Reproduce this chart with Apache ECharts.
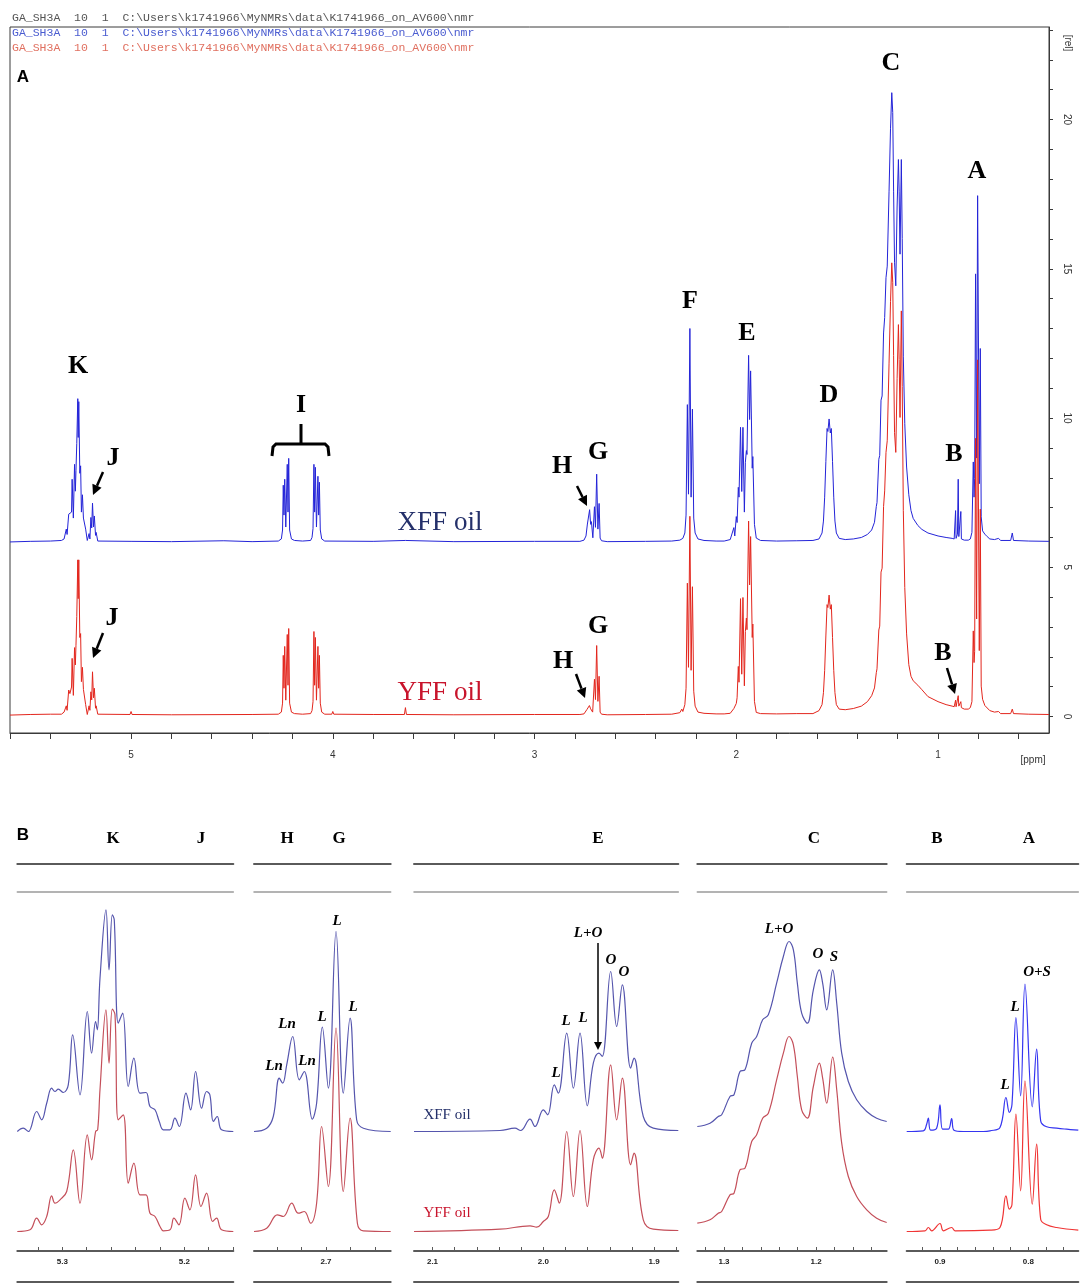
<!DOCTYPE html>
<html><head><meta charset="utf-8">
<script src="https://cdn.jsdelivr.net/npm/echarts@6/dist/echarts.min.js"></script>
<style>html,body{margin:0;padding:0;background:#fff}#c{width:1084px;height:1287px}</style>
</head><body><div id="c"></div>
<script>
// ---------------- DATA (ppm, relative intensity) ----------------
// Panel A: full 1H spectra, intensity in [rel] units above each trace's own baseline
const xffSpectrum = [
[5.60,0.00],[5.50,0.02],[5.40,0.03],[5.345,0.05],[5.332,0.10],[5.321,0.43],[5.317,0.25],[5.309,0.93],[5.303,0.90],[5.295,1.00],[5.292,2.10],[5.286,0.80],[5.280,2.60],[5.276,1.70],[5.273,2.40],[5.269,3.30],[5.264,4.80],[5.262,3.50],[5.259,4.70],[5.254,2.30],[5.250,2.55],[5.246,1.00],[5.241,1.58],[5.236,0.80],[5.232,0.80],[5.225,0.43],[5.217,0.05],[5.208,0.28],[5.204,0.10],[5.199,0.82],[5.195,0.47],[5.191,1.30],[5.186,0.50],[5.182,0.87],[5.176,0.22],[5.173,0.32],[5.165,0.03],
[5.00,0.02],[4.80,0.01],[4.54,0.04],[4.40,0.01],
[4.27,0.03],[4.255,0.10],[4.249,0.40],[4.2455,1.90],[4.242,0.90],[4.2383,2.10],[4.233,0.50],[4.2257,2.60],[4.222,1.00],[4.2185,2.80],[4.214,0.40],[4.205,0.10],[4.19,0.05],[4.15,0.03],[4.11,0.05],[4.103,0.15],[4.098,0.45],[4.0935,2.60],[4.090,1.00],[4.0863,2.50],[4.081,0.50],[4.0737,2.20],[4.070,0.90],[4.0665,2.00],[4.062,0.40],[4.055,0.10],[4.04,0.03],
[3.80,0.02],[3.64,0.05],[3.40,0.01],[3.00,0.02],
[2.775,0.02],[2.755,0.06],[2.745,0.20],[2.738,0.60],[2.733,0.55],[2.727,1.08],[2.722,0.59],[2.718,0.68],[2.711,0.14],[2.703,1.18],[2.698,0.49],[2.692,2.27],[2.686,0.43],[2.680,1.29],[2.675,0.13],[2.668,0.04],[2.64,0.01],
[2.45,0.02],[2.32,0.03],[2.28,0.06],[2.265,0.12],[2.255,0.30],[2.249,0.90],[2.2425,4.60],[2.237,1.60],[2.230,7.15],[2.224,1.50],[2.2175,4.45],[2.211,0.80],[2.204,0.30],[2.19,0.10],[2.16,0.05],[2.10,0.03],
[2.06,0.03],[2.03,0.08],[2.0256,0.13],[2.012,0.48],[2.0075,0.20],[2.000,0.85],[1.996,0.65],[1.990,1.83],[1.9865,1.50],[1.979,3.84],[1.973,1.69],[1.967,3.84],[1.960,1.00],[1.955,2.67],[1.950,3.06],[1.947,2.93],[1.939,6.25],[1.934,4.10],[1.929,5.73],[1.921,2.47],[1.918,2.86],[1.910,0.59],[1.901,0.13],[1.88,0.05],
[1.80,0.03],[1.70,0.04],[1.62,0.05],[1.59,0.10],[1.575,0.30],[1.568,0.70],[1.562,1.50],[1.556,2.70],[1.550,3.80],[1.546,3.70],[1.540,4.12],[1.534,3.65],[1.529,3.80],[1.523,2.70],[1.517,1.50],[1.511,0.70],[1.504,0.30],[1.49,0.12],[1.46,0.08],
[1.42,0.10],[1.38,0.15],[1.35,0.25],[1.329,0.40],[1.315,0.66],[1.306,1.19],[1.3025,1.32],[1.2935,2.77],[1.289,2.90],[1.2826,4.75],[1.2772,4.89],[1.270,7.00],[1.2645,7.52],[1.258,8.85],[1.2518,9.24],[1.2428,11.75],[1.2355,13.86],[1.2293,15.05],[1.2246,14.39],[1.2203,11.75],[1.2156,9.37],[1.2094,8.58],[1.2029,11.22],[1.1964,12.81],[1.1928,11.75],[1.1884,9.64],[1.1819,12.81],[1.1775,10.16],[1.1721,6.20],[1.1649,3.96],[1.1558,2.51],[1.1449,1.58],[1.1341,1.05],[1.1232,0.79],[1.10,0.55],[1.08,0.42],[1.05,0.30],[1.00,0.20],[0.96,0.15],[0.93,0.12],
[0.92,0.10],[0.916,0.15],[0.913,1.05],[0.9106,0.12],[0.9038,0.26],[0.900,2.10],[0.897,0.18],[0.8906,0.18],[0.887,1.02],[0.8842,0.10],[0.87,0.06],[0.85,0.06],[0.84,0.10],[0.832,0.32],
[0.8253,2.68],[0.8215,1.50],[0.8185,2.13],[0.814,8.98],[0.8087,2.81],[0.8038,11.60],[0.7955,1.95],[0.7906,6.48],[0.786,0.84],[0.7792,0.37],[0.7679,0.26],[0.7566,0.18],[0.7434,0.10],[0.72,0.08],[0.70,0.12],[0.69,0.05],[0.64,0.05],[0.632,0.30],[0.626,0.05],[0.55,0.03],[0.45,0.02]
];
const yffSpectrum = [
[5.60,0.00],[5.50,0.02],[5.40,0.03],[5.345,0.03],[5.332,0.10],[5.321,0.31],[5.317,0.16],[5.309,0.84],[5.303,0.72],[5.295,0.94],[5.292,1.90],[5.286,0.66],[5.280,2.26],[5.276,1.68],[5.273,2.34],[5.269,3.30],[5.264,5.20],[5.262,3.90],[5.259,5.20],[5.254,2.60],[5.250,2.73],[5.246,1.12],[5.241,1.60],[5.236,0.86],[5.232,0.86],[5.225,0.35],[5.217,0.02],[5.208,0.31],[5.204,0.16],[5.199,0.78],[5.195,0.51],[5.191,1.45],[5.186,0.58],[5.182,0.90],[5.176,0.23],[5.173,0.31],[5.165,0.03],
[5.005,0.02],[5.000,0.12],[4.995,0.02],[4.80,0.01],[4.40,0.02],
[4.27,0.03],[4.255,0.10],[4.249,0.40],[4.2455,2.00],[4.242,0.90],[4.2383,2.30],[4.233,0.50],[4.2257,2.70],[4.222,1.00],[4.2185,2.90],[4.214,0.40],[4.205,0.10],[4.19,0.05],[4.15,0.03],[4.11,0.05],[4.103,0.15],[4.098,0.45],[4.0935,2.80],[4.090,1.00],[4.0863,2.60],[4.081,0.50],[4.0737,2.30],[4.070,0.90],[4.0665,2.00],[4.062,0.40],[4.055,0.10],[4.04,0.03],[4.005,0.03],[4.000,0.12],[3.995,0.03],
[3.80,0.02],[3.645,0.02],[3.640,0.25],[3.635,0.02],[3.40,0.01],[3.00,0.02],
[2.775,0.02],[2.755,0.04],[2.740,0.19],[2.734,0.17],[2.728,0.32],[2.722,0.21],[2.718,0.23],[2.712,0.10],[2.703,1.20],[2.698,0.52],[2.692,2.33],[2.686,0.46],[2.680,1.30],[2.675,0.10],[2.668,0.03],[2.64,0.01],
[2.45,0.02],[2.32,0.03],[2.28,0.08],[2.27,0.20],[2.265,0.12],[2.255,0.35],[2.249,0.90],[2.2425,4.42],[2.237,1.60],[2.230,6.66],[2.224,1.50],[2.2175,4.30],[2.211,0.80],[2.204,0.30],[2.19,0.10],[2.16,0.06],[2.10,0.04],
[2.06,0.04],[2.03,0.06],[2.012,0.22],[2.000,0.39],[1.996,0.58],[1.990,1.63],[1.9865,1.10],[1.979,3.90],[1.973,1.37],[1.967,3.94],[1.960,0.98],[1.955,2.80],[1.950,3.25],[1.947,2.86],[1.939,6.50],[1.934,4.36],[1.929,5.98],[1.921,2.60],[1.918,3.05],[1.910,0.46],[1.901,0.09],[1.88,0.05],
[1.80,0.04],[1.70,0.05],[1.62,0.05],[1.59,0.15],[1.575,0.35],[1.568,0.75],[1.562,1.50],[1.556,2.65],[1.550,3.70],[1.546,3.60],[1.540,4.02],[1.534,3.55],[1.529,3.70],[1.523,2.60],[1.517,1.50],[1.511,0.75],[1.504,0.35],[1.49,0.20],[1.46,0.18],
[1.42,0.22],[1.38,0.30],[1.35,0.45],[1.329,0.65],[1.315,0.91],[1.306,1.42],[1.3025,1.55],[1.2935,2.85],[1.289,2.98],[1.2826,4.79],[1.2772,4.92],[1.270,6.99],[1.2645,7.51],[1.258,8.80],[1.2518,9.19],[1.2428,11.79],[1.2355,13.85],[1.2293,15.15],[1.2246,14.50],[1.2203,12.04],[1.2156,9.46],[1.2094,8.80],[1.2029,11.27],[1.1964,13.08],[1.1928,11.91],[1.1884,9.97],[1.1819,13.54],[1.1775,11.01],[1.1721,6.86],[1.1649,4.27],[1.1558,2.72],[1.1449,1.69],[1.1341,1.30],[1.1232,1.15],[1.10,1.00],[1.08,0.85],[1.05,0.62],[1.00,0.45],[0.96,0.35],[0.93,0.30],
[0.92,0.28],[0.916,0.30],[0.913,0.50],[0.9106,0.28],[0.9038,0.30],[0.900,0.65],[0.897,0.30],[0.8906,0.28],[0.887,0.45],[0.8842,0.25],[0.87,0.20],[0.85,0.20],[0.84,0.25],[0.832,0.45],
[0.8253,2.82],[0.8215,1.76],[0.8185,2.13],[0.814,9.27],[0.8087,3.22],[0.8038,11.90],[0.7955,2.16],[0.7906,6.90],[0.786,0.97],[0.7792,0.53],[0.7679,0.32],[0.7434,0.15],[0.72,0.10],[0.70,0.12],[0.69,0.05],[0.64,0.05],[0.632,0.20],[0.626,0.05],[0.55,0.03],[0.45,0.02]
];
const xffBaselineA = 5.85;   // [rel]
const yffBaselineA = 0.05;
const ppmTicksA = [5.6,5.4,5.2,5.0,4.8,4.6,4.4,4.2,4.0,3.8,3.6,3.4,3.2,3.0,2.8,2.6,2.4,2.2,2.0,1.8,1.6,1.4,1.2,1.0,0.8,0.6];
const ppmLabelsA = [5,4,3,2,1];
const relTicksA = [0,1,2,3,4,5,6,7,8,9,10,11,12,13,14,15,16,17,18,19,20,21,22,23];
const relLabelsA = [0,5,10,15,20];

// Panel B: expanded regions (ppm, intensity in arbitrary units above each trace's baseline)
const kjXff = [[5.3369,0],[5.332,3.3],[5.3279,0],[5.321,20],[5.3169,11.7],[5.3128,28.3],[5.3087,43.3],[5.306,40],[5.3033,42.3],[5.2992,39],[5.2951,46.7],[5.2915,96.7],[5.2855,36.7],[5.2795,120],[5.276,78.3],[5.2727,110],[5.2713,101.7],[5.2691,153.3],[5.2642,221.7],[5.2617,161.7],[5.259,216.7],[5.2574,211.7],[5.2541,108.3],[5.2505,118.3],[5.2459,45],[5.2413,73.3],[5.2363,38.3],[5.2314,39],[5.2281,25],[5.224,21.7],[5.2205,10],[5.2172,1.7],[5.2117,1.7],[5.2077,13.3],[5.2041,5],[5.1986,38.3],[5.1948,21.7],[5.1907,60],[5.1858,23.3],[5.1817,40],[5.179,36.7],[5.1762,10],[5.173,15],[5.1694,1.7],[5.1598,0]];
const kjYff = [[5.3369,0],[5.3265,1.7],[5.321,13.3],[5.3169,6.7],[5.3128,15],[5.3087,35.7],[5.306,28.3],[5.3019,31.7],[5.2964,40],[5.291,81.7],[5.2855,28.3],[5.2795,96.7],[5.276,71.7],[5.2727,100],[5.271,101.7],[5.2691,141.7],[5.2642,221.7],[5.2617,168.3],[5.259,222.3],[5.2568,216.7],[5.2541,111.7],[5.25,116.7],[5.2459,48.3],[5.2413,68.3],[5.2363,36.7],[5.2314,36.7],[5.2281,18.3],[5.224,15],[5.2199,5],[5.2172,0.7],[5.2117,1.7],[5.2085,13.3],[5.2044,6.7],[5.1995,33.3],[5.1954,21.7],[5.1907,56.7],[5.1863,25],[5.1817,38.3],[5.1768,10],[5.1735,13.3],[5.1694,1.7],[5.1598,0]];
const hgXff = [[2.759,0],[2.7486,3.3],[2.7432,15],[2.7383,53.3],[2.7355,48.3],[2.7322,66.7],[2.7273,95],[2.7219,51.7],[2.7178,60],[2.7112,12.3],[2.7077,28.3],[2.703,104.3],[2.6981,43.3],[2.6918,200],[2.6858,38.3],[2.6803,113.3],[2.6749,11.7],[2.6694,3.3],[2.647,0]];
const hgYff = [[2.759,0],[2.7486,3.3],[2.7399,16.7],[2.735,15],[2.7281,28.3],[2.7227,18.3],[2.7178,20],[2.7126,8.3],[2.7077,28.3],[2.7036,105],[2.6981,45],[2.6918,203.3],[2.6858,40],[2.6803,113.3],[2.6743,8.3],[2.6694,0.7],[2.647,0]];
const eXff = [[2.1167,0],[2.0391,1],[2.0256,3.3],[2.0205,1],[2.012,12.3],[2.0075,5],[2.0,21.7],[1.9961,16.7],[1.9901,46.7],[1.9865,38.3],[1.9789,98.3],[1.9729,43.3],[1.9669,98.3],[1.9603,25.7],[1.9549,68.3],[1.9498,78.3],[1.9468,75],[1.9392,160],[1.9338,105],[1.9287,146.7],[1.9212,63.3],[1.9182,73.3],[1.9098,15],[1.9008,3.3],[1.8782,1]];
const eYff = [[2.1167,0],[2.0391,2.3],[2.012,5.7],[2.006,4.3],[2.0,10],[1.9955,15],[1.9901,41.7],[1.9856,28.3],[1.9789,100],[1.9729,35],[1.9669,101],[1.9603,25],[1.9549,71.7],[1.9498,83.3],[1.9468,73.3],[1.9392,166.7],[1.9338,111.7],[1.9287,153.3],[1.9212,66.7],[1.9182,78.3],[1.9098,11.7],[1.9008,2.3],[1.8782,1]];
const cXff = [[1.329,5],[1.3152,8.3],[1.3062,15],[1.3025,16.7],[1.2935,35],[1.2891,36.7],[1.2826,60],[1.2772,61.7],[1.2699,88.3],[1.2645,95],[1.258,111.7],[1.2518,116.7],[1.2428,148.3],[1.2355,175],[1.2293,190],[1.2246,181.7],[1.2203,148.3],[1.2156,118.3],[1.2094,108.3],[1.2029,141.7],[1.1964,161.7],[1.1928,148.3],[1.1884,121.7],[1.1819,161.7],[1.1775,128.3],[1.1721,78.3],[1.1649,50],[1.1558,31.7],[1.1449,20],[1.1341,13.3],[1.1232,10]];
const cYff = [[1.329,8.3],[1.3152,11.7],[1.3062,18.3],[1.3025,20],[1.2935,36.7],[1.2891,38.3],[1.2826,61.7],[1.2772,63.3],[1.2699,90],[1.2645,96.7],[1.258,113.3],[1.2518,118.3],[1.2428,151.7],[1.2355,178.3],[1.2293,195],[1.2246,186.7],[1.2203,155],[1.2156,121.7],[1.2094,113.3],[1.2029,145],[1.1964,168.3],[1.1928,153.3],[1.1884,128.3],[1.1819,174.3],[1.1775,141.7],[1.1721,88.3],[1.1649,55],[1.1558,35],[1.1449,21.7],[1.1341,13.3],[1.1232,9]];
const baXff = [[0.9377,0],[0.9189,0.7],[0.9151,7.3],[0.9132,13.3],[0.9106,1.3],[0.9038,3.3],[0.9,26.7],[0.897,2.3],[0.8906,2.3],[0.8868,13],[0.8842,1.3],[0.8736,0],[0.8509,0],[0.8434,0.7],[0.8321,4],[0.8253,34],[0.8215,19],[0.8185,27],[0.814,114],[0.8087,35.7],[0.8038,147.3],[0.7955,24.7],[0.7906,82.3],[0.786,10.7],[0.7792,4.7],[0.7679,3.3],[0.7566,2.3],[0.7434,1.3]];
const baYff = [[0.9377,0],[0.917,0.7],[0.9132,4],[0.9094,0.7],[0.9,8],[0.8962,0.7],[0.8868,4],[0.883,0.7],[0.8434,1.3],[0.8321,4],[0.8253,35.7],[0.8215,22.3],[0.8185,27],[0.814,117.3],[0.8087,40.7],[0.8038,150.7],[0.7955,27.3],[0.7906,87.3],[0.786,12.3],[0.7792,6.7],[0.7679,4],[0.7434,1.3]];
const xffBaselineB = 119.5;
const yffBaselineB = 19.5;
const kjTicks = [5.32,5.30,5.28,5.26,5.24,5.22,5.20,5.18,5.16], kjLabels = [5.3,5.2];
const hgTicks = [2.74,2.72,2.70,2.68,2.66], hgLabels = [2.7];
const eTicks = [2.10,2.08,2.06,2.04,2.02,2.00,1.98,1.96,1.94,1.92,1.90,1.88], eLabels = [2.1,2.0,1.9];
const cTicks = [1.32,1.30,1.28,1.26,1.24,1.22,1.20,1.18,1.16,1.14], cLabels = [1.3,1.2];
const baTicks = [0.92,0.90,0.88,0.86,0.84,0.82,0.80,0.78,0.76], baLabels = [0.9,0.8];

// ---------------- CHART ----------------
const SERIF = '"Liberation Serif", "Times New Roman", serif';
const SANS = '"Liberation Sans", Arial, sans-serif';
const MONO = '"Liberation Mono", "DejaVu Sans Mono", monospace';
const chart = echarts.init(document.getElementById('c'), null, {renderer: 'canvas', width: 1084, height: 1287});

const grids = [{left: 10, top: 27, width: 1039, height: 706, show: true, borderColor: '#3a3a3a', borderWidth: 1}];
const xAxes = [{
  gridIndex: 0, type: 'value', inverse: true, min: 0.45, max: 5.6, position: 'bottom',
  axisLine: {show: true, onZero: false, lineStyle: {color: '#3a3a3a', width: 1}},
  axisTick: {show: true, customValues: ppmTicksA, length: 6, lineStyle: {color: '#3a3a3a'}},
  axisLabel: {customValues: ppmLabelsA, margin: 17, fontSize: 10, color: '#333', fontFamily: SANS},
  splitLine: {show: false}
}];
const yAxes = [{
  gridIndex: 0, type: 'value', position: 'right', min: -0.55, max: 23.1,
  axisLine: {show: true, onZero: false, lineStyle: {color: '#3a3a3a', width: 1}},
  axisTick: {show: true, customValues: relTicksA, length: 4, lineStyle: {color: '#3a3a3a'}},
  axisLabel: {customValues: relLabelsA, rotate: -90, margin: 13, fontSize: 10, color: '#333', fontFamily: SANS},
  splitLine: {show: false}
}];
const series = [
  {type: 'line', xAxisIndex: 0, yAxisIndex: 0, symbol: 'none', data: xffSpectrum.map(d => [d[0], d[1] + xffBaselineA]),
   lineStyle: {color: '#2424d8', width: 1}, z: 2},
  {type: 'line', xAxisIndex: 0, yAxisIndex: 0, symbol: 'none', data: yffSpectrum.map(d => [d[0], d[1] + yffBaselineA]),
   lineStyle: {color: '#e3261d', width: 1}, z: 3}
];

const subPanels = [
  {xff: kjXff, yff: kjYff, min: 5.1598, max: 5.3369, left: 17.3, width: 216, ticks: kjTicks, labels: kjLabels, blue: '#5555ad', red: '#c44f5a'},
  {xff: hgXff, yff: hgYff, min: 2.647, max: 2.759, left: 254, width: 136.7, ticks: hgTicks, labels: hgLabels, blue: '#5555ad', red: '#c44f5a'},
  {xff: eXff, yff: eYff, min: 1.8782, max: 2.1167, left: 414, width: 264.3, ticks: eTicks, labels: eLabels, blue: '#5555ad', red: '#c44f5a'},
  {xff: cXff, yff: cYff, min: 1.1232, max: 1.329, left: 697.3, width: 189.4, ticks: cTicks, labels: cLabels, blue: '#5555ad', red: '#c44f5a'},
  {xff: baXff, yff: baYff, min: 0.7434, max: 0.9377, left: 906.7, width: 171.6, ticks: baTicks, labels: baLabels, blue: '#3535f0', red: '#f03535'}
];
subPanels.forEach((sp, i) => {
  const g = grids.length;
  grids.push({left: sp.left, width: sp.width, top: 892, height: 359});
  const mainIdx = xAxes.length;
  xAxes.push({
    gridIndex: g, type: 'value', inverse: true, min: sp.min, max: sp.max, position: 'bottom',
    axisLine: {show: true, onZero: false, lineStyle: {color: '#5a5a5a', width: 2}},
    axisTick: {show: true, inside: true, length: 4, customValues: sp.ticks, lineStyle: {color: '#5a5a5a', width: 1}},
    axisLabel: {customValues: sp.labels, formatter: v => Number(v).toFixed(1), fontSize: 8, fontWeight: 'bold', margin: 7, color: '#222', fontFamily: SANS},
    splitLine: {show: false}
  });
  const lineAxis = (pos, off, color, w) => ({
    gridIndex: g, type: 'value', min: 0, max: 1, position: pos, offset: off,
    axisLine: {show: true, onZero: false, lineStyle: {color: color, width: w}},
    axisTick: {show: false}, axisLabel: {show: false}, splitLine: {show: false}
  });
  xAxes.push(lineAxis('bottom', 31, '#5a5a5a', 2));
  xAxes.push(lineAxis('top', 0, '#9a9a9a', 1.5));
  xAxes.push(lineAxis('top', 28, '#5a5a5a', 2));
  const yi = yAxes.length;
  yAxes.push({gridIndex: g, type: 'value', min: 0, max: 359, show: false});
  series.push({type: 'line', xAxisIndex: mainIdx, yAxisIndex: yi, symbol: 'none', smooth: 0.4,
    data: sp.xff.map(d => [d[0], d[1] + xffBaselineB]), lineStyle: {color: sp.blue, width: 1.2}});
  series.push({type: 'line', xAxisIndex: mainIdx, yAxisIndex: yi, symbol: 'none', smooth: 0.4,
    data: sp.yff.map(d => [d[0], d[1] + yffBaselineB]), lineStyle: {color: sp.red, width: 1.2}});
});

// ---------------- ANNOTATIONS ----------------
function txt(x, y, text, font, fill, align, rot) {
  return {type: 'text', x: x, y: y, rotation: rot || 0, z: 100,
    style: {text: text, font: font, fill: fill || '#000', align: align || 'center', verticalAlign: 'middle'}};
}
function arrow(x1, y1, x2, y2, w, hl, hw) {
  const dx = x2 - x1, dy = y2 - y1, L = Math.sqrt(dx * dx + dy * dy);
  const ux = dx / L, uy = dy / L, bx = x2 - ux * hl, by = y2 - uy * hl;
  return [
    {type: 'line', z: 100, shape: {x1: x1, y1: y1, x2: bx, y2: by}, style: {stroke: '#000', lineWidth: w}},
    {type: 'polygon', z: 100, shape: {points: [[x2, y2], [bx - uy * hw, by + ux * hw], [bx + uy * hw, by - ux * hw]]}, style: {fill: '#000'}}
  ];
}
const bigLbl = 'bold 26px ' + SERIF;
const midLbl = 'bold 17px ' + SERIF;
const itLbl = 'italic bold 15px ' + SERIF;
const headerText = 'GA_SH3A  10  1  C:\\Users\\k1741966\\MyNMRs\\data\\K1741966_on_AV600\\nmr';
const graphics = [
  txt(12, 18, headerText, '11.5px ' + MONO, '#555', 'left'),
  txt(12, 33, headerText, '11.5px ' + MONO, '#4a5cd0', 'left'),
  txt(12, 48, headerText, '11.5px ' + MONO, '#e07060', 'left'),
  txt(23, 77, 'A', 'bold 17px ' + SANS, '#000'),
  txt(1068, 43, '[rel]', '10px ' + SANS, '#333', 'center', -Math.PI / 2),
  txt(1033, 760, '[ppm]', '10px ' + SANS, '#333'),
  txt(78, 366, 'K', bigLbl), txt(113, 458, 'J', bigLbl), txt(112, 618, 'J', bigLbl),
  txt(301, 405, 'I', bigLbl),
  txt(562, 466, 'H', bigLbl), txt(598, 452, 'G', bigLbl),
  txt(563, 661, 'H', bigLbl), txt(598, 626, 'G', bigLbl),
  txt(690, 301, 'F', bigLbl), txt(747, 333, 'E', bigLbl), txt(829, 395, 'D', bigLbl),
  txt(891, 63, 'C', bigLbl), txt(977, 171, 'A', bigLbl),
  txt(954, 454, 'B', bigLbl), txt(943, 653, 'B', bigLbl),
  txt(440, 523, 'XFF oil', '27px ' + SERIF, '#24306a'),
  txt(440, 693, 'YFF oil', '27px ' + SERIF, '#c8142c'),
  {type: 'polyline', z: 100, shape: {points: [[272, 456], [273, 447], [276, 444], [325, 444], [328, 447], [329, 456]]}, style: {stroke: '#000', lineWidth: 3, fill: null}},
  {type: 'line', z: 100, shape: {x1: 301, y1: 444, x2: 301, y2: 424}, style: {stroke: '#000', lineWidth: 3}},
  // Panel B
  txt(23, 835, 'B', 'bold 17px ' + SANS, '#000'),
  txt(113, 839, 'K', midLbl), txt(201, 839, 'J', midLbl), txt(287, 839, 'H', midLbl), txt(339, 839, 'G', midLbl),
  txt(598, 839, 'E', midLbl), txt(814, 839, 'C', midLbl), txt(937, 839, 'B', midLbl), txt(1029, 839, 'A', midLbl),
  txt(337, 921, 'L', itLbl), txt(353, 1007, 'L', itLbl), txt(322, 1017, 'L', itLbl),
  txt(287, 1024, 'Ln', itLbl), txt(307, 1061, 'Ln', itLbl), txt(274, 1066, 'Ln', itLbl),
  txt(588, 933, 'L+O', itLbl), txt(611, 960, 'O', itLbl), txt(624, 972, 'O', itLbl),
  txt(566, 1021, 'L', itLbl), txt(583, 1018, 'L', itLbl), txt(556, 1073, 'L', itLbl),
  txt(779, 929, 'L+O', itLbl), txt(818, 954, 'O', itLbl), txt(834, 957, 'S', itLbl),
  txt(1037, 972, 'O+S', itLbl), txt(1015, 1007, 'L', itLbl), txt(1005, 1085, 'L', itLbl),
  txt(447, 1115, 'XFF oil', '15px ' + SERIF, '#24306a'),
  txt(447, 1213, 'YFF oil', '15px ' + SERIF, '#c8142c')
].concat(
  arrow(103, 472, 93, 495, 2.5, 10, 5),
  arrow(103, 633, 93, 658, 2.5, 10, 5),
  arrow(577, 486, 587, 506, 2.5, 10, 5),
  arrow(576, 674, 585, 698, 2.5, 10, 5),
  arrow(947, 668, 955, 694, 2.5, 10, 5),
  arrow(598, 943, 598, 1050, 1.5, 8, 4)
);

chart.setOption({
  animation: false,
  backgroundColor: '#fff',
  grid: grids,
  xAxis: xAxes,
  yAxis: yAxes,
  series: series,
  graphic: {elements: graphics}
});
</script>
</body></html>
